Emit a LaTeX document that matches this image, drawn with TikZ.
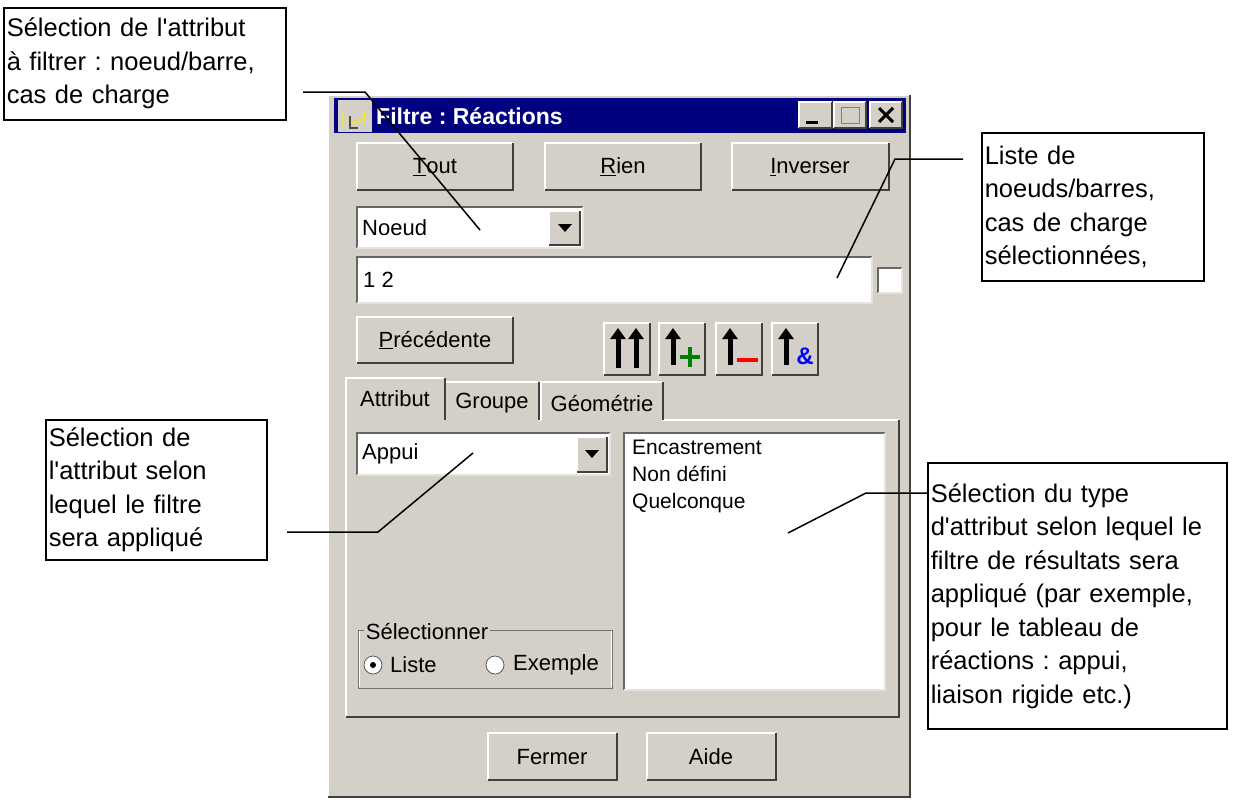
\documentclass[tikz,border=0pt]{standalone}
\usepackage{fontspec}
\setmainfont{Liberation Sans}
\usetikzlibrary{arrows.meta}
\frenchspacing

\definecolor{winface}{RGB}{212,208,200}
\definecolor{navy}{RGB}{0,0,128}

\newcommand\raised[4]{%
  \fill[winface] (#1,#2) rectangle (#3,#4);
  \draw[white,line width=1.5pt] (#1,#4) -- (#1,#2) -- (#3,#2);
  \draw[black!75,line width=1.5pt] (#1,#4) -- (#3,#4) -- (#3,#2);}
\newcommand\sunken[4]{%
  \fill[white] (#1,#2) rectangle (#3,#4);
  \draw[black!60,line width=1.5pt] (#1,#4) -- (#1,#2) -- (#3,#2);
  \draw[winface!60!white,line width=1.5pt] (#1,#4) -- (#3,#4) -- (#3,#2);}
\newcommand\q{\textquotesingle}

\tikzset{
  callout/.style={draw,line width=1.5pt,fill=white,inner sep=3pt,align=left,anchor=north west,
    font=\fontsize{25.5}{33.5}\selectfont},
  lead/.style={line width=1.5pt},
  ui/.style={font=\fontsize{22}{27}\selectfont,inner sep=0pt},
  arrowkey/.style={line width=5pt,-{Triangle[length=11pt,width=15pt]}}
}

\begin{document}
\begin{tikzpicture}[x=1pt,y=-1pt]
  \useasboundingbox (0,0) rectangle (1237,804);

  % window frame and title bar
  \raised{328}{95}{910}{797}
  \fill[navy] (334,98) rectangle (906,133);
  \fill[winface] (338,100) rectangle (372,132);
  \draw[yellow,thick] (343,128) -- (343,112) arc (180:0:11) -- (365,124);
  \draw[black!70,line width=2pt] (350,116) -- (350,128) -- (358,128);
  \node[ui,text=white,anchor=west,font=\bfseries\fontsize{23}{27}\selectfont] (title) at (376,116) {Filtre : Réactions};
  \raised{799}{102}{832}{128}
  \raised{834}{102}{866}{128}
  \raised{870}{102}{902}{128}
  \draw[line width=3pt] (806,122) -- (818,122);
  \draw[black!50,thick] (841,107) rectangle (859,123);
  \draw[line width=3pt] (879,108) -- (893,122) (893,108) -- (879,122);

  % buttons row
  \raised{357}{143}{513}{190}
  \raised{545}{143}{701}{190}
  \raised{732}{143}{889}{190}
  \node[ui] (tout) at (435,167) {\underline{T}out};
  \node[ui] (rien) at (623,167) {\underline{R}ien};
  \node[ui] (inverser) at (810,167) {\underline{I}nverser};

  % type combo and list edit
  \sunken{357}{207}{583}{248}
  \raised{549}{211}{580}{245}
  \fill (558,224) -- (572,224) -- (565,232) -- cycle;
  \node[ui,anchor=west] (noeud) at (362,228) {Noeud};
  \sunken{357}{257}{872}{303}
  \node[ui,anchor=west] (liste) at (363,280) {1 2};
  \sunken{878}{268}{902}{293}

  % previous and arrow keys
  \raised{357}{317}{513}{363}
  \node[ui] (precedente) at (435,340) {\underline{P}récédente};
  \foreach \x in {604,659,716,772} {
    \raised{\x}{323}{\x+46}{375}
  }
  \draw[arrowkey] (618,368) -- (618,328);
  \draw[arrowkey] (636,368) -- (636,328);
  \draw[arrowkey] (673,365) -- (673,328);
  \draw[green!50!black,line width=4pt] (680,357) -- (700,357) (690,347) -- (690,367);
  \draw[arrowkey] (730,365) -- (730,328);
  \draw[red,line width=4pt] (737,360) -- (758,360);
  \draw[arrowkey] (786,365) -- (786,328);
  \node[text=blue,font=\bfseries\fontsize{24}{24}\selectfont,inner sep=0pt] (amp) at (805,356) {\&};

  % tabs and panel
  \raised{346}{420}{899}{717}
  \fill[winface] (445,382) rectangle (539,422);
  \draw[white,line width=1.5pt] (445,420) -- (445,382) -- (539,382);
  \draw[black!75,line width=1.5pt] (539,382) -- (539,420);
  \fill[winface] (541,382) rectangle (663,422);
  \draw[white,line width=1.5pt] (541,420) -- (541,382) -- (663,382);
  \draw[black!75,line width=1.5pt] (663,382) -- (663,420);
  \fill[winface] (346,378) rectangle (445,423);
  \draw[white,line width=1.5pt] (346,423) -- (346,378) -- (445,378);
  \draw[black!75,line width=1.5pt] (445,378) -- (445,420);
  \node[ui] (attribut) at (395,399) {Attribut};
  \node[ui] (groupe) at (492,403) {Groupe};
  \node[ui] (geometrie) at (602,403) {Géométrie};

  \sunken{357}{433}{610}{475}
  \raised{577}{437}{607}{472}
  \fill (585,450) -- (599,450) -- (592,458) -- cycle;
  \node[ui,anchor=west] (appui) at (362,454) {Appui};
  \sunken{624}{433}{885}{690}
  \node[ui,anchor=north west,align=left,font=\fontsize{21}{27}\selectfont] (valeurs) at (632,440)
    {Encastrement\\Non défini\\Quelconque};

  \draw[black!55,thick] (372,630) -- (358,630) -- (358,688) -- (612,688) -- (612,630) -- (482,630);
  \draw[white] (359,631) -- (359,687) (611,631) -- (611,687);
  \node[ui,fill=winface,inner xsep=2pt] (selectionner) at (427,631) {Sélectionner};
  \fill[white] (373,665) circle (9pt);
  \draw[black!65,thick] (373,665) circle (9pt);
  \fill (373,665) circle (3pt);
  \node[ui,anchor=west] (rliste) at (390,665) {Liste};
  \fill[white] (495,665) circle (9pt);
  \draw[black!65,thick] (495,665) circle (9pt);
  \node[ui,anchor=west] (rexemple) at (513,665) {Exemple};

  \raised{488}{733}{617}{780}
  \raised{647}{733}{776}{780}
  \node[ui] (fermer) at (552,757) {Fermer};
  \node[ui] (aide) at (711,757) {Aide};

  % callouts
  \node[callout,text width=276pt,minimum height=112pt] (c1) at (3,7)
    {Sélection de l\q attribut\\à filtrer : noeud/barre,\\cas de charge};
  \node[callout,text width=216pt,minimum height=148pt] (c2) at (981,132)
    {Liste de\\noeuds/barres,\\cas de charge\\sélectionnées,};
  \node[callout,text width=215pt,minimum height=140pt] (c3) at (45,419)
    {Sélection de\\l\q attribut selon\\lequel le filtre\\sera appliqué};
  \node[callout,text width=293pt,minimum height=266pt] (c4) at (927,462)
    {Sélection du type\\d\q attribut selon lequel le\\filtre de résultats sera\\appliqué (par exemple,\\pour le tableau de\\réactions : appui,\\liaison rigide etc.)};

  \coordinate (p1) at (303,92);
  \coordinate (k1) at (365,92);
  \coordinate (e1) at (480,230);
  \draw[lead] (p1) -- (k1) -- (e1);
  \coordinate (p2) at (963,159);
  \coordinate (k2) at (895,159);
  \coordinate (e2) at (837,278);
  \draw[lead] (p2) -- (k2) -- (e2);
  \coordinate (p3) at (287,532);
  \coordinate (k3) at (378,532);
  \coordinate (e3) at (473,453);
  \draw[lead] (p3) -- (k3) -- (e3);
  \coordinate (k4) at (866,493);
  \coordinate (e4) at (788,533);
  \draw[lead] (c4.west |- k4) -- (k4) -- (e4);
\end{tikzpicture}
\end{document}
